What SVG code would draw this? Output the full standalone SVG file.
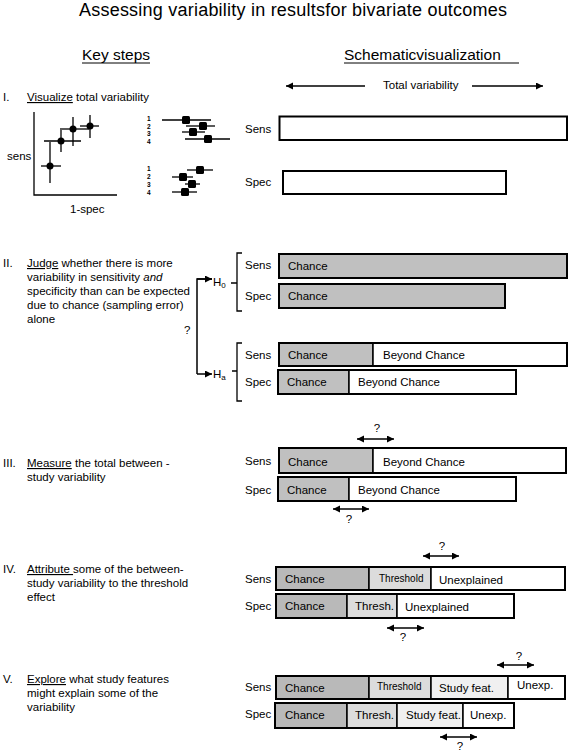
<svg xmlns="http://www.w3.org/2000/svg" width="568" height="753" viewBox="0 0 568 753">
<style>
text{font-family:"Liberation Sans",Arial,Helvetica,sans-serif;fill:#000}
.b{font-size:11.5px}
.sm{font-size:10px}
.h{font-size:15.5px}
.u{text-decoration:underline}
.ln{stroke:#000;stroke-width:1.5;fill:none}
.ax{stroke:#000;stroke-width:1.3;fill:none}
.outer{fill:none;stroke:#000;stroke-width:2}
.seg{stroke:#000;stroke-width:1.5}
.c1{fill:#c0c0c0}
.c2{fill:#b9b9b9}
.th{fill:#dcdcdc}
.sf{fill:#f0f0f0}
.w{fill:#fff}
.dig{font-size:6.5px;font-weight:bold}
.sq{fill:#000}
</style>
<defs>
<marker id="ah" markerUnits="userSpaceOnUse" markerWidth="8" markerHeight="8" refX="7" refY="3.5" orient="auto-start-reverse">
<path d="M0,0 L7,3.5 L0,7 z" fill="#000"/>
</marker>
</defs>

<g id="title">
<text x="79" y="16" style="font-size:18px" textLength="428">Assessing variability in resultsfor bivariate outcomes</text>
</g>

<g id="headers">
<text class="h" x="82" y="60">Key steps</text>
<line x1="82" y1="63" x2="150" y2="63" stroke="#000" stroke-width="1"/>
<text class="h" x="344" y="60">Schematicvisualization</text>
<line x1="344" y1="63" x2="519" y2="63" stroke="#000" stroke-width="1"/>
</g>

<g id="total-variability">
<line class="ln" x1="365" y1="86" x2="286" y2="86" marker-end="url(#ah)"/>
<text class="b" x="383" y="89">Total variability</text>
<line class="ln" x1="472" y1="86" x2="543" y2="86" marker-end="url(#ah)"/>
</g>

<g id="step1">
<text class="b" x="3" y="101">I.</text>
<text class="b" x="27" y="101"><tspan class="u">Visualize</tspan> total variability</text>
</g>

<g id="scatter">
<path class="ax" d="M34,112 V195 H117"/>
<text class="b" x="7" y="160">sens</text>
<text class="b" x="70" y="213">1-spec</text>
<g class="ln" style="stroke-width:1.3">
<line x1="50" y1="142" x2="50" y2="183"/><line x1="41" y1="166" x2="61" y2="166"/>
<line x1="61" y1="130" x2="61" y2="152"/><line x1="44" y1="141" x2="81" y2="141"/>
<line x1="73" y1="117" x2="73" y2="146"/><line x1="60" y1="129" x2="89" y2="129"/>
<line x1="90" y1="115" x2="90" y2="138"/><line x1="80" y1="126" x2="99" y2="126"/>
</g>
<circle cx="50" cy="166" r="3.5"/>
<circle cx="61" cy="141" r="3.5"/>
<circle cx="73" cy="129" r="3.5"/>
<circle cx="90" cy="126" r="3.5"/>
</g>

<g id="forest-sens">
<text class="dig" x="147" y="121">1</text>
<text class="dig" x="147" y="129">2</text>
<text class="dig" x="147" y="136">3</text>
<text class="dig" x="147" y="144">4</text>
<g class="ln" style="stroke-width:1.3">
<line x1="162" y1="120" x2="211" y2="120"/>
<line x1="186" y1="126" x2="215" y2="126"/>
<line x1="182" y1="132" x2="205" y2="132"/>
<line x1="185" y1="139" x2="230" y2="139"/>
</g>
<rect class="sq" x="182" y="116" width="8" height="8" rx="1.5"/>
<rect class="sq" x="199" y="122" width="8" height="8" rx="1.5"/>
<rect class="sq" x="189" y="128" width="8" height="8" rx="1.5"/>
<rect class="sq" x="204" y="135" width="8" height="8" rx="1.5"/>
</g>

<g id="forest-spec">
<text class="dig" x="147" y="171">1</text>
<text class="dig" x="147" y="179">2</text>
<text class="dig" x="147" y="187">3</text>
<text class="dig" x="147" y="195">4</text>
<g class="ln" style="stroke-width:1.3">
<line x1="187" y1="170" x2="213" y2="170"/>
<line x1="172" y1="177" x2="193" y2="177"/>
<line x1="185" y1="184" x2="200" y2="184"/>
<line x1="172" y1="192" x2="197" y2="192"/>
</g>
<rect class="sq" x="196" y="166" width="8" height="8" rx="1.5"/>
<rect class="sq" x="179" y="173" width="8" height="8" rx="1.5"/>
<rect class="sq" x="188" y="180" width="8" height="8" rx="1.5"/>
<rect class="sq" x="181" y="188" width="8" height="8" rx="1.5"/>
</g>

<g id="bars1">
<text class="b" x="245" y="133">Sens</text>
<rect class="outer" x="279.5" y="116.5" width="287.5" height="23.5"/>
<text class="b" x="245" y="186">Spec</text>
<rect class="outer" x="283" y="171" width="223" height="23"/>
</g>

<g id="step2">
<text class="b" x="3" y="267">II.</text>
<text class="b" x="27" y="267"><tspan class="u">Judge</tspan> whether there is more</text>
<text class="b" x="27" y="281">variability in sensitivity <tspan font-style="italic">and</tspan></text>
<text class="b" x="27" y="295">specificity than can be expected</text>
<text class="b" x="27" y="309">due to chance (sampling error)</text>
<text class="b" x="27" y="323">alone</text>
</g>

<g id="connectors">
<path class="ln" d="M212,279 H197 V374"/>
<line class="ln" x1="197" y1="279" x2="212" y2="279" marker-end="url(#ah)"/>
<line class="ln" x1="197" y1="374" x2="212" y2="374" marker-end="url(#ah)"/>
<text class="b" x="184" y="334">?</text>
<path class="ax" d="M242,253 H237 V311 H242 M237,283 H231"/>
<path class="ax" d="M242,343 H237 V401 H242 M237,371 H232"/>
</g>

<g id="h0">
<text class="b" x="213" y="286">H<tspan font-size="8px" dy="2">0</tspan></text>
</g>
<g id="ha">
<text class="b" x="213" y="378">H<tspan font-size="8px" dy="2">a</tspan></text>
</g>

<g id="bars2-h0">
<text class="b" x="245" y="269">Sens</text>
<rect class="outer c1" x="279" y="254" width="288" height="24"/>
<text class="b" x="288" y="270">Chance</text>
<text class="b" x="245" y="300">Spec</text>
<rect class="outer c1" x="279" y="284" width="226" height="24"/>
<text class="b" x="288" y="300">Chance</text>
</g>

<g id="bars2-ha">
<text class="b" x="245" y="359">Sens</text>
<rect class="seg c1" x="279" y="343" width="94" height="23"/>
<rect class="seg w" x="373" y="343" width="194" height="23"/>
<rect class="outer" x="279" y="343" width="288" height="23"/>
<text class="b" x="288" y="359">Chance</text>
<text class="b" x="383" y="359">Beyond Chance</text>
<text class="b" x="245" y="386">Spec</text>
<rect class="seg c1" x="278" y="370" width="71" height="24"/>
<rect class="seg w" x="349" y="370" width="167" height="24"/>
<rect class="outer" x="278" y="370" width="238" height="24"/>
<text class="b" x="287" y="386">Chance</text>
<text class="b" x="358" y="386">Beyond Chance</text>
</g>

<g id="step3">
<text class="b" x="3" y="467">III.</text>
<text class="b" x="27" y="467"><tspan class="u">Measure</tspan> the total between -</text>
<text class="b" x="27" y="481">study variability</text>
</g>

<g id="bars3">
<line class="ln" x1="357" y1="439" x2="394" y2="439" marker-start="url(#ah)" marker-end="url(#ah)"/>
<text class="b" x="377" y="432" text-anchor="middle">?</text>
<text class="b" x="245" y="465">Sens</text>
<rect class="seg c1" x="279" y="448" width="94" height="25"/>
<rect class="seg w" x="373" y="448" width="193" height="25"/>
<rect class="outer" x="279" y="448" width="287" height="25"/>
<text class="b" x="288" y="466">Chance</text>
<text class="b" x="383" y="466">Beyond Chance</text>
<text class="b" x="245" y="494">Spec</text>
<rect class="seg c1" x="278" y="477" width="71" height="24"/>
<rect class="seg w" x="349" y="477" width="167" height="24"/>
<rect class="outer" x="278" y="477" width="238" height="24"/>
<text class="b" x="287" y="494">Chance</text>
<text class="b" x="358" y="494">Beyond Chance</text>
<line class="ln" x1="333" y1="509" x2="369" y2="509" marker-start="url(#ah)" marker-end="url(#ah)"/>
<text class="b" x="349" y="523" text-anchor="middle">?</text>
</g>

<g id="step4">
<text class="b" x="3" y="573">IV.</text>
<text class="b" x="27" y="573"><tspan class="u">Attribute </tspan> some of the between-</text>
<text class="b" x="27" y="587">study variability to the threshold</text>
<text class="b" x="27" y="601">effect</text>
</g>

<g id="bars4">
<line class="ln" x1="423" y1="556" x2="459" y2="556" marker-start="url(#ah)" marker-end="url(#ah)"/>
<text class="b" x="442" y="550" text-anchor="middle">?</text>
<text class="b" x="245" y="583">Sens</text>
<rect class="seg c2" x="276" y="567" width="93" height="23"/>
<rect class="seg th" x="369" y="567" width="62" height="23"/>
<rect class="seg w" x="431" y="567" width="134" height="23"/>
<rect class="outer" x="276" y="567" width="289" height="23"/>
<text class="b" x="285" y="583">Chance</text>
<text class="sm" x="379" y="582">Threshold</text>
<text class="b" x="439" y="584">Unexplained</text>
<text class="b" x="245" y="610">Spec</text>
<rect class="seg c2" x="276" y="594" width="71" height="24"/>
<rect class="seg th" x="347" y="594" width="50" height="24"/>
<rect class="seg w" x="397" y="594" width="117" height="24"/>
<rect class="outer" x="276" y="594" width="238" height="24"/>
<text class="b" x="285" y="610">Chance</text>
<text class="b" x="355" y="610">Thresh.</text>
<text class="b" x="405" y="611">Unexplained</text>
<line class="ln" x1="387" y1="628" x2="424" y2="628" marker-start="url(#ah)" marker-end="url(#ah)"/>
<text class="b" x="403" y="641" text-anchor="middle">?</text>
</g>

<g id="step5">
<text class="b" x="3" y="683">V.</text>
<text class="b" x="27" y="683"><tspan class="u">Explore</tspan> what study features</text>
<text class="b" x="27" y="697">might explain  some of the</text>
<text class="b" x="27" y="711">variability</text>
</g>

<g id="bars5">
<line class="ln" x1="497" y1="665" x2="534" y2="665" marker-start="url(#ah)" marker-end="url(#ah)"/>
<text class="b" x="519" y="660" text-anchor="middle">?</text>
<text class="b" x="245" y="691">Sens</text>
<rect class="seg c2" x="276" y="676" width="93" height="23"/>
<rect class="seg th" x="369" y="676" width="62" height="23"/>
<rect class="seg sf" x="431" y="676" width="77" height="23"/>
<rect class="seg w" x="508" y="676" width="57" height="23"/>
<rect class="outer" x="276" y="676" width="289" height="23"/>
<text class="b" x="285" y="692">Chance</text>
<text class="sm" x="377" y="690">Threshold</text>
<text class="b" x="439" y="692">Study feat.</text>
<text class="b" x="517" y="689">Unexp.</text>
<text class="b" x="245" y="718">Spec</text>
<rect class="seg c2" x="275" y="703" width="72" height="25"/>
<rect class="seg th" x="347" y="703" width="50" height="25"/>
<rect class="seg sf" x="397" y="703" width="66" height="25"/>
<rect class="seg w" x="463" y="703" width="51" height="25"/>
<rect class="outer" x="275" y="703" width="239" height="25"/>
<text class="b" x="285" y="719">Chance</text>
<text class="b" x="355" y="719">Thresh.</text>
<text class="b" x="406" y="719">Study feat.</text>
<text class="b" x="470" y="719">Unexp.</text>
<line class="ln" x1="440" y1="737" x2="477" y2="737" marker-start="url(#ah)" marker-end="url(#ah)"/>
<text class="b" x="460" y="750" text-anchor="middle">?</text>
</g>
</svg>
